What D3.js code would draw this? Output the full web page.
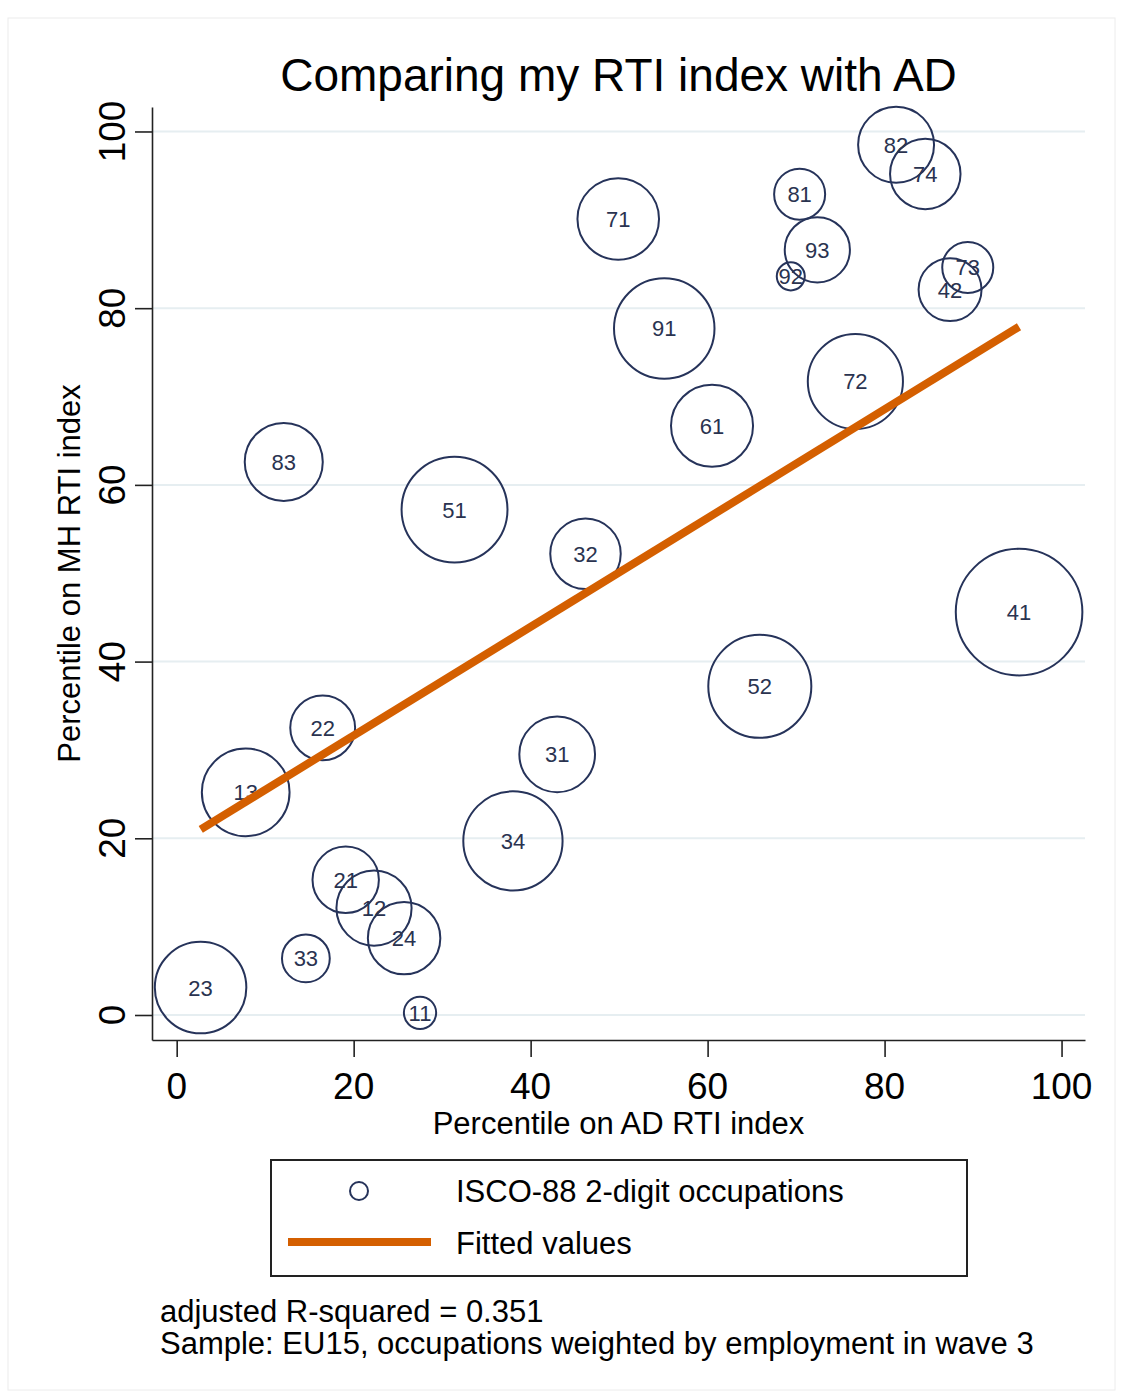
<!DOCTYPE html>
<html>
<head>
<meta charset="utf-8">
<script src="https://cdn.jsdelivr.net/npm/d3@7"></script>
<style>
  body { margin: 0; background: #fff; }
  text { font-family: "Liberation Sans", Arial, sans-serif; }
</style>
</head>
<body>
<div id="chart"></div>
<script>
// Bubble scatter: MH RTI percentile vs AD RTI percentile, ISCO-88 2-digit

// Data
const codes = ["11", "12", "13", "21", "22", "23", "24", "31", "32", "33", "34", "41", "42",
               "51", "52", "61", "71", "72", "73", "74", "81", "82", "83", "91", "92", "93"];
const adPct = [27.5, 22.3, 7.8, 19.1, 16.5, 2.7, 25.7, 43.0, 46.2, 14.6, 38.0, 95.2, 87.4,
               31.4, 65.9, 60.5, 49.9, 76.7, 89.4, 84.6, 70.4, 81.3, 12.1, 55.1, 69.4, 72.4];
const mhPct = [0.25, 12.1, 25.2, 15.3, 32.5, 3.1, 8.7, 29.5, 52.2, 6.4, 19.7, 45.6, 82.1,
               57.2, 37.2, 66.7, 90.1, 71.7, 84.6, 95.2, 92.9, 98.5, 62.6, 77.7, 83.6, 86.6];
const employment = [2.6, 14.1, 19.2, 11.0, 10.5, 20.9, 13.1, 14.3, 12.4, 5.7, 24.6, 40.0, 9.9,
                    28.0, 26.5, 16.8, 16.6, 22.6, 6.5, 12.4, 6.5, 14.4, 15.2, 25.2, 1.96, 10.6];

// Fitted values (end points of the regression line)
const fitX = [2.72, 95.19];
const fitY = [21.0, 77.9];

const xTicks = [0, 20, 40, 60, 80, 100];
const yTicks = [0, 20, 40, 60, 80, 100];

const titleText = "Comparing my RTI index with AD";
const xTitle = "Percentile on AD RTI index";
const yTitle = "Percentile on MH RTI index";
const legendLabels = ["ISCO-88 2-digit occupations", "Fitted values"];
const notes = ["adjusted R-squared = 0.351",
               "Sample: EU15, occupations weighted by employment in wave 3"];

// Layout
const W = 1122, H = 1397;
const plot = { left: 152, right: 1085, top: 107, bottom: 1040 };
const navy = "#26335a";
const orange = "#d45f00";

const svg = d3.select("#chart")
    .append("svg")
    .attr("width", W)
    .attr("height", H);

// faint outer frame
svg.append("rect")
    .attr("x", 8).attr("y", 18)
    .attr("width", 1107).attr("height", 1372)
    .attr("fill", "none")
    .attr("stroke", "#ececec")
    .attr("stroke-width", 1);

// Scales (plot region extends a little past 0 and 100, like Stata)
const x = d3.scaleLinear().domain([-2.79, 102.65]).range([plot.left, plot.right]);
const y = d3.scaleLinear().domain([-2.83, 102.77]).range([plot.bottom, plot.top]);
const r = d3.scaleSqrt().domain([0, 40]).range([0, 63.3]);

// Gridlines
svg.append("g")
    .selectAll("line")
    .data(yTicks)
    .join("line")
    .attr("x1", plot.left).attr("x2", plot.right)
    .attr("y1", d => y(d)).attr("y2", d => y(d))
    .attr("stroke", "#e6eef1")
    .attr("stroke-width", 2);

// Axes
const xAxis = svg.append("g")
    .attr("transform", `translate(0,${plot.bottom})`)
    .call(d3.axisBottom(x).tickValues(xTicks).tickSize(17).tickSizeOuter(0).tickFormat(""));

const yAxis = svg.append("g")
    .attr("transform", `translate(${plot.left},0)`)
    .call(d3.axisLeft(y).tickValues(yTicks).tickSize(17).tickSizeOuter(0).tickFormat(""));

[xAxis, yAxis].forEach(a => {
    a.select(".domain").attr("stroke", "#222").attr("stroke-width", 1.6);
    a.selectAll(".tick line").attr("stroke", "#222").attr("stroke-width", 1.6);
});

// Tick labels
svg.append("g")
    .selectAll("text")
    .data(xTicks)
    .join("text")
    .attr("x", d => x(d))
    .attr("y", 1099)
    .attr("text-anchor", "middle")
    .style("font-size", "37px")
    .attr("fill", "#000")
    .text(d => d);

svg.append("g")
    .selectAll("text")
    .data(yTicks)
    .join("text")
    .attr("transform", d => `translate(125,${y(d)}) rotate(-90)`)
    .attr("text-anchor", "middle")
    .style("font-size", "37px")
    .attr("fill", "#000")
    .text(d => d);

// Axis titles
svg.append("text")
    .attr("x", (plot.left + plot.right) / 2)
    .attr("y", 1134)
    .attr("text-anchor", "middle")
    .style("font-size", "31px")
    .text(xTitle);

svg.append("text")
    .attr("transform", `translate(80,${(plot.top + plot.bottom) / 2}) rotate(-90)`)
    .attr("text-anchor", "middle")
    .style("font-size", "31px")
    .text(yTitle);

// Title
svg.append("text")
    .attr("x", (plot.left + plot.right) / 2)
    .attr("y", 91)
    .attr("text-anchor", "middle")
    .style("font-size", "46px")
    .text(titleText);

// Bubbles
const bubbles = codes.map((c, i) => ({ code: c, ad: adPct[i], mh: mhPct[i], w: employment[i] }));

svg.append("g")
    .selectAll("circle")
    .data(bubbles)
    .join("circle")
    .attr("cx", d => x(d.ad))
    .attr("cy", d => y(d.mh))
    .attr("r", d => r(d.w))
    .attr("fill", "none")
    .attr("stroke", navy)
    .attr("stroke-width", 2);

svg.append("g")
    .selectAll("text")
    .data(bubbles)
    .join("text")
    .attr("x", d => x(d.ad))
    .attr("y", d => y(d.mh))
    .attr("dy", "0.36em")
    .attr("text-anchor", "middle")
    .style("font-size", "22px")
    .attr("fill", "#2a3350")
    .text(d => d.code);

// Fitted line (drawn on top)
svg.append("path")
    .datum(fitX.map((v, i) => [v, fitY[i]]))
    .attr("d", d3.line().x(d => x(d[0])).y(d => y(d[1])))
    .attr("fill", "none")
    .attr("stroke", orange)
    .attr("stroke-width", 8);

// Legend
const legend = svg.append("g");
legend.append("rect")
    .attr("x", 271).attr("y", 1160)
    .attr("width", 696).attr("height", 116)
    .attr("fill", "#fff")
    .attr("stroke", "#222")
    .attr("stroke-width", 2);

legend.append("circle")
    .attr("cx", 359).attr("cy", 1191)
    .attr("r", 9)
    .attr("fill", "none")
    .attr("stroke", navy)
    .attr("stroke-width", 2);

legend.append("line")
    .attr("x1", 288).attr("x2", 431)
    .attr("y1", 1242).attr("y2", 1242)
    .attr("stroke", orange)
    .attr("stroke-width", 8);

legend.selectAll("text.lab")
    .data(legendLabels)
    .join("text")
    .attr("class", "lab")
    .attr("x", 456)
    .attr("y", (d, i) => 1202 + i * 52)
    .style("font-size", "31px")
    .text(d => d);

// Notes
svg.append("g")
    .selectAll("text")
    .data(notes)
    .join("text")
    .attr("x", 160)
    .attr("y", (d, i) => 1322 + i * 32)
    .style("font-size", "31px")
    .text(d => d);
</script>
</body>
</html>
